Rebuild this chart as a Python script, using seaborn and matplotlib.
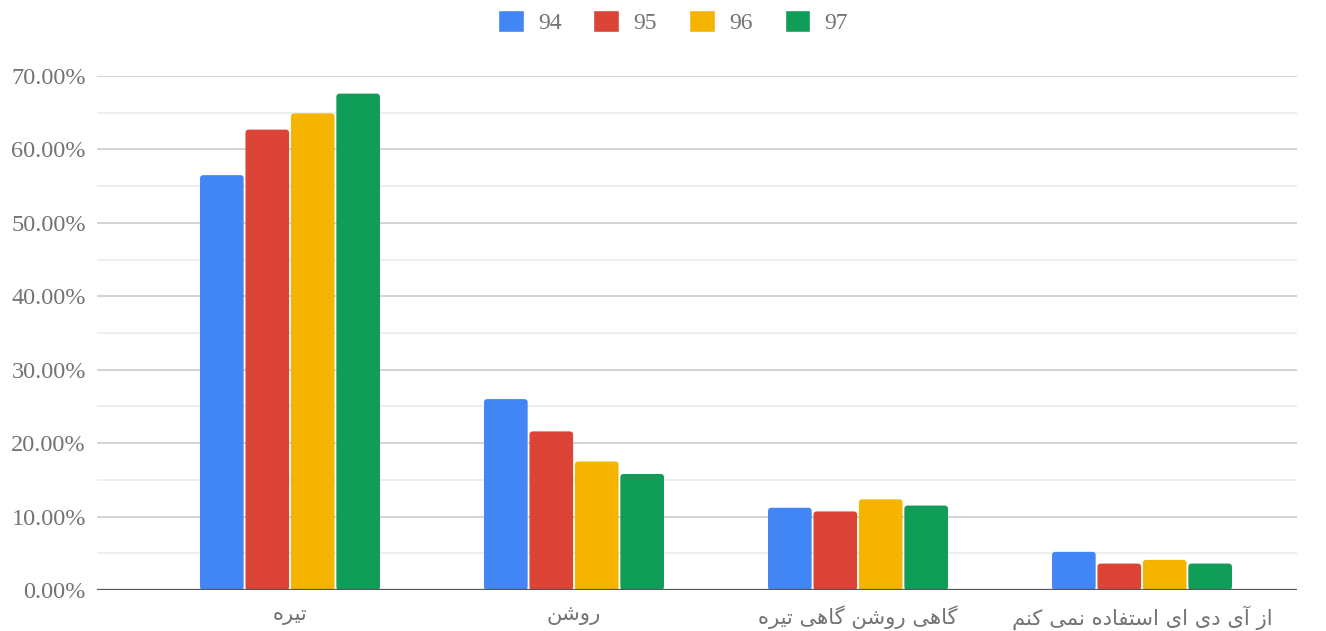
import numpy as np
import pandas as pd
import matplotlib
matplotlib.use("Agg")
import matplotlib.pyplot as plt
import seaborn as sns
from matplotlib.ticker import MultipleLocator, FuncFormatter
from matplotlib.patches import FancyBboxPatch

# ---------------- data ----------------
categories = ["تیره", "روشن", "گاهی روشن گاهی تیره", "از آی دی ای استفاده نمی کنم"]
series = ["94", "95", "96", "97"]
values_94 = [56.5, 26.0, 11.2, 5.2]
values_95 = [62.7, 21.6, 10.7, 3.6]
values_96 = [64.9, 17.5, 12.35, 4.1]
values_97 = [67.6, 15.8, 11.5, 3.6]
colors = ["#4285F4", "#DB4437", "#F4B400", "#0F9D58"]
yticks = [0, 10, 20, 30, 40, 50, 60, 70]

# ---------------- simple Persian shaping (matplotlib has no complex text layout) ----------------
FORMS = {
    'ا': ('\uFE8D', '\uFE8E', None, None),
    'آ': ('\uFE81', '\uFE82', None, None),
    'د': ('\uFEA9', '\uFEAA', None, None),
    'ر': ('\uFEAD', '\uFEAE', None, None),
    'ز': ('\uFEAF', '\uFEB0', None, None),
    'و': ('\uFEED', '\uFEEE', None, None),
    'ت': ('\uFE95', '\uFE96', '\uFE97', '\uFE98'),
    'س': ('\uFEB1', '\uFEB2', '\uFEB3', '\uFEB4'),
    'ش': ('\uFEB5', '\uFEB6', '\uFEB7', '\uFEB8'),
    'ف': ('\uFED1', '\uFED2', '\uFED3', '\uFED4'),
    'م': ('\uFEE1', '\uFEE2', '\uFEE3', '\uFEE4'),
    'ن': ('\uFEE5', '\uFEE6', '\uFEE7', '\uFEE8'),
    'ه': ('\uFEE9', '\uFEEA', '\uFEEB', '\uFEEC'),
    'ی': ('\uFBFC', '\uFBFD', '\uFBFE', '\uFBFF'),
    'ک': ('\uFB8E', '\uFB8F', '\uFB90', '\uFB91'),
    'گ': ('\uFB92', '\uFB93', '\uFB94', '\uFB95'),
}


def shape(text):
    text = text.replace('ي', 'ی').replace('ك', 'ک')
    out = []
    n = len(text)
    for i, ch in enumerate(text):
        if ch not in FORMS:
            out.append(ch)
            continue
        iso, fin, ini, med = FORMS[ch]
        prev = text[i - 1] if i > 0 else None
        nxt = text[i + 1] if i < n - 1 else None
        join_prev = prev in FORMS and FORMS[prev][2] is not None
        join_next = ini is not None and nxt in FORMS
        if join_prev and join_next:
            out.append(med)
        elif join_prev:
            out.append(fin)
        elif join_next:
            out.append(ini)
        else:
            out.append(iso)
    return ''.join(reversed(out))


# ---------------- frame ----------------
rows = []
for s, vals in zip(series, [values_94, values_95, values_96, values_97]):
    for c, v in zip(categories, vals):
        rows.append({"category": c, "year": s, "value": v})
df = pd.DataFrame(rows)

sns.set_theme(style="white")
plt.rcParams['font.family'] = ['DejaVu Sans']

fig = plt.figure(figsize=(13.26, 6.31), dpi=100)
ax = fig.add_axes([97 / 1326, 1 - 590 / 631, 1200 / 1326, (590 - 76) / 631])

sns.barplot(data=df, x="category", y="value", hue="year", order=categories,
            hue_order=series, palette=colors, saturation=1, width=0.64, gap=0.04,
            ax=ax, legend=True)

# rounded tops
for p in list(ax.patches):
    if p.get_height() <= 0:
        continue
    x, y = p.get_x(), p.get_y()
    w, h = p.get_width(), p.get_height()
    fb = FancyBboxPatch((x, y), w, h, boxstyle="round,pad=0,rounding_size=0.012",
                        mutation_aspect=(70 / 514) / (1 / 284),
                        facecolor=p.get_facecolor(), edgecolor='none', zorder=3)
    p.set_visible(False)
    ax.add_patch(fb)

# axis ranges to place category centers
left = (97 - 290) / 284
right = (1297 - 290) / 284
ax.set_xlim(left, right)
ax.set_ylim(0, 70)

ax.yaxis.set_major_locator(plt.FixedLocator(yticks))
ax.yaxis.set_minor_locator(MultipleLocator(5))
ax.yaxis.set_major_formatter(FuncFormatter(lambda v, _: f"{v:.2f}%"))
ax.grid(axis='y', which='major', color='#cccccc', linewidth=1.2, zorder=0)
ax.grid(axis='y', which='minor', color='#ebebeb', linewidth=1.2, zorder=0)
ax.set_axisbelow(True)
ax.axhline(0, color='#555555', linewidth=1.6, zorder=4)

for sp in ax.spines.values():
    sp.set_visible(False)

ax.tick_params(axis='y', which='both', length=0, pad=8, labelsize=17.5, labelcolor='#737373')
ax.tick_params(axis='x', length=0, pad=11, labelsize=15.2, labelcolor='#737373')
for lab in ax.get_yticklabels():
    lab.set_fontfamily(['Liberation Serif'])
ax.set_xticks(range(len(categories)))
ax.set_xticklabels([shape(c) for c in categories], fontfamily=['DejaVu Sans'])
ax.set_xlabel("")
ax.set_ylabel("")

# legend
handles, labels = ax.get_legend_handles_labels()
if ax.legend_:
    ax.legend_.remove()
leg = fig.legend(handles, labels, loc='center', bbox_to_anchor=(673 / 1326, 1 - 22 / 631),
                 ncol=4, frameon=False, handlelength=1.1, handleheight=1.1,
                 handletextpad=0.6, columnspacing=1.35,
                 prop={'family': 'Liberation Serif', 'size': 17})
for t in leg.get_texts():
    t.set_color('#737373')

fig.savefig("out.png", dpi=100)
